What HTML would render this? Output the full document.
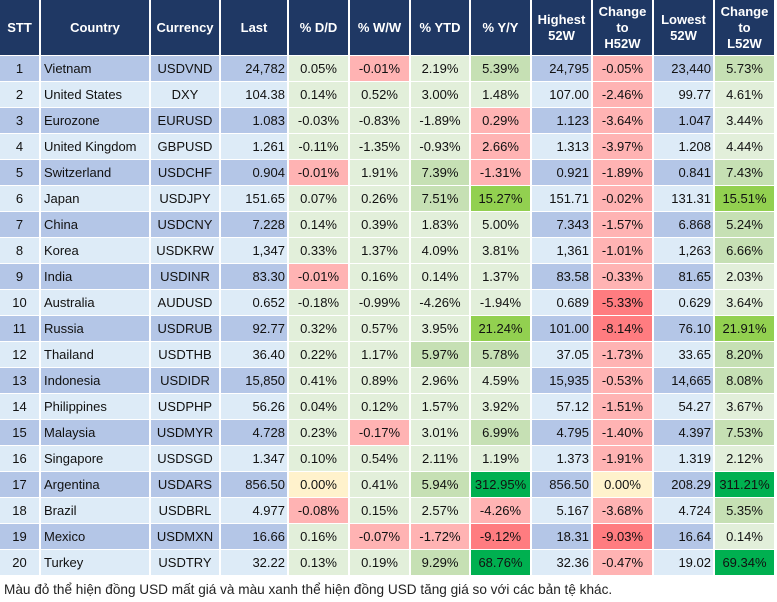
<!DOCTYPE html>
<html><head><meta charset="utf-8">
<style>
html,body{margin:0;padding:0;background:#fff;}
body{width:777px;height:602px;position:relative;overflow:hidden;font-family:"Liberation Sans",Arial,sans-serif;}
.c{position:absolute;box-sizing:border-box;font-size:13px;color:#111;display:flex;align-items:center;white-space:nowrap;}
.h{background:#1f3864;color:#fff;font-weight:bold;justify-content:center;text-align:center;line-height:16px;font-size:13px;}
.l{justify-content:flex-start;padding-left:3px;}
.m{justify-content:center;}
.r{justify-content:flex-end;padding-right:2px;}
.foot{position:absolute;left:4px;top:582px;font-size:13.6px;color:#222;white-space:nowrap;}
</style></head>
<body>
<div id="t"></div>
<div class="foot">Màu đỏ thể hiện đồng USD mất giá và màu xanh thể hiện đồng USD tăng giá so với các bản tệ khác.</div>
<script>
var headers=["STT","Country","Currency","Last","% D/D","% W/W","% YTD","% Y/Y","Highest<br>52W","Change<br>to<br>H52W","Lowest<br>52W","Change<br>to<br>L52W"];
var countries=["Vietnam","United States","Eurozone","United Kingdom","Switzerland","Japan","China","Korea","India","Australia","Russia","Thailand","Indonesia","Philippines","Malaysia","Singapore","Argentina","Brazil","Mexico","Turkey"];
var currencies=["USDVND","DXY","EURUSD","GBPUSD","USDCHF","USDJPY","USDCNY","USDKRW","USDINR","AUDUSD","USDRUB","USDTHB","USDIDR","USDPHP","USDMYR","USDSGD","USDARS","USDBRL","USDMXN","USDTRY"];
var last=["24,782","104.38","1.083","1.261","0.904","151.65","7.228","1,347","83.30","0.652","92.77","36.40","15,850","56.26","4.728","1.347","856.50","4.977","16.66","32.22"];
var dd=["0.05%","0.14%","-0.03%","-0.11%","-0.01%","0.07%","0.14%","0.33%","-0.01%","-0.18%","0.32%","0.22%","0.41%","0.04%","0.23%","0.10%","0.00%","-0.08%","0.16%","0.13%"];
var ww=["-0.01%","0.52%","-0.83%","-1.35%","1.91%","0.26%","0.39%","1.37%","0.16%","-0.99%","0.57%","1.17%","0.89%","0.12%","-0.17%","0.54%","0.41%","0.15%","-0.07%","0.19%"];
var ytd=["2.19%","3.00%","-1.89%","-0.93%","7.39%","7.51%","1.83%","4.09%","0.14%","-4.26%","3.95%","5.97%","2.96%","1.57%","3.01%","2.11%","5.94%","2.57%","-1.72%","9.29%"];
var yy=["5.39%","1.48%","0.29%","2.66%","-1.31%","15.27%","5.00%","3.81%","1.37%","-1.94%","21.24%","5.78%","4.59%","3.92%","6.99%","1.19%","312.95%","-4.26%","-9.12%","68.76%"];
var hi=["24,795","107.00","1.123","1.313","0.921","151.71","7.343","1,361","83.58","0.689","101.00","37.05","15,935","57.12","4.795","1.373","856.50","5.167","18.31","32.36"];
var ch=["-0.05%","-2.46%","-3.64%","-3.97%","-1.89%","-0.02%","-1.57%","-1.01%","-0.33%","-5.33%","-8.14%","-1.73%","-0.53%","-1.51%","-1.40%","-1.91%","0.00%","-3.68%","-9.03%","-0.47%"];
var lo=["23,440","99.77","1.047","1.208","0.841","131.31","6.868","1,263","81.65","0.629","76.10","33.65","14,665","54.27","4.397","1.319","208.29","4.724","16.64","19.02"];
var cl=["5.73%","4.61%","3.44%","4.44%","7.43%","15.51%","5.24%","6.66%","2.03%","3.64%","21.91%","8.20%","8.08%","3.67%","7.53%","2.12%","311.21%","5.35%","0.14%","69.34%"];
// colour codes per row for D/D, W/W, YTD, Y/Y, H52W, L52W
var shades=["grgGrG","ggggrg","gggrrg","gggrrg","rgGrrG","ggGLrL","ggggrG","ggggrG","rgggrg","ggggRg","gggLRL","ggGGrG","ggggrG","ggggrg","grgGrG","ggggrg","ygGDyD","rggrrG","grrRRg","ggGDrD"];
var pal={g:"#e2efda",G:"#c6e0b4",L:"#92d050",D:"#00b050",r:"#ffb3b3",R:"#ff7c80",y:"#fff2cc"};
var xs=[0,40,150,220,288,349,410,470,531,592,653,714,775];
var names=["stt","country","currency","last","pct-dd","pct-ww","pct-ytd","pct-yy","highest-52w","change-h52w","lowest-52w","change-l52w"];
var t=document.getElementById('t');
function cell(x0,x1,y0,y1,cls,html,bg){
  var d=document.createElement('div');
  d.className='c '+cls;
  d.style.left=(x0+(x0?1:0))+'px';
  d.style.width=(x1-x0-(x0?2:1))+'px';
  d.style.top=(y0+(y0?1:0))+'px';
  d.style.height=(y1-y0-(y0?2:1))+'px';
  if(bg)d.style.background=bg;
  d.innerHTML=html;
  t.appendChild(d);
  return d;
}
for(var j=0;j<12;j++){
  var hd=cell(xs[j],xs[j+1],0,56,'h',headers[j]);
  
  
}
for(var i=0;i<20;i++){
  var y0=55+i*26,y1=y0+26;
  var base=(i%2==0)?"#b4c6e7":"#ddebf7";
  var vals=[String(i+1),countries[i],currencies[i],last[i],dd[i],ww[i],ytd[i],yy[i],hi[i],ch[i],lo[i],cl[i]];
  var pctIdx={4:0,5:1,6:2,7:3,9:4,11:5};
  for(var j=0;j<12;j++){
    var cls=(j==1)?'l':(j==3||j==8||j==10)?'r':'m';
    var bg=base;
    if(pctIdx[j]!==undefined)bg=pal[shades[i].charAt(pctIdx[j])];
    var d=cell(xs[j],xs[j+1],y0,y1+1,cls,vals[j],bg);
    
    
  }
}
</script>
</body></html>
